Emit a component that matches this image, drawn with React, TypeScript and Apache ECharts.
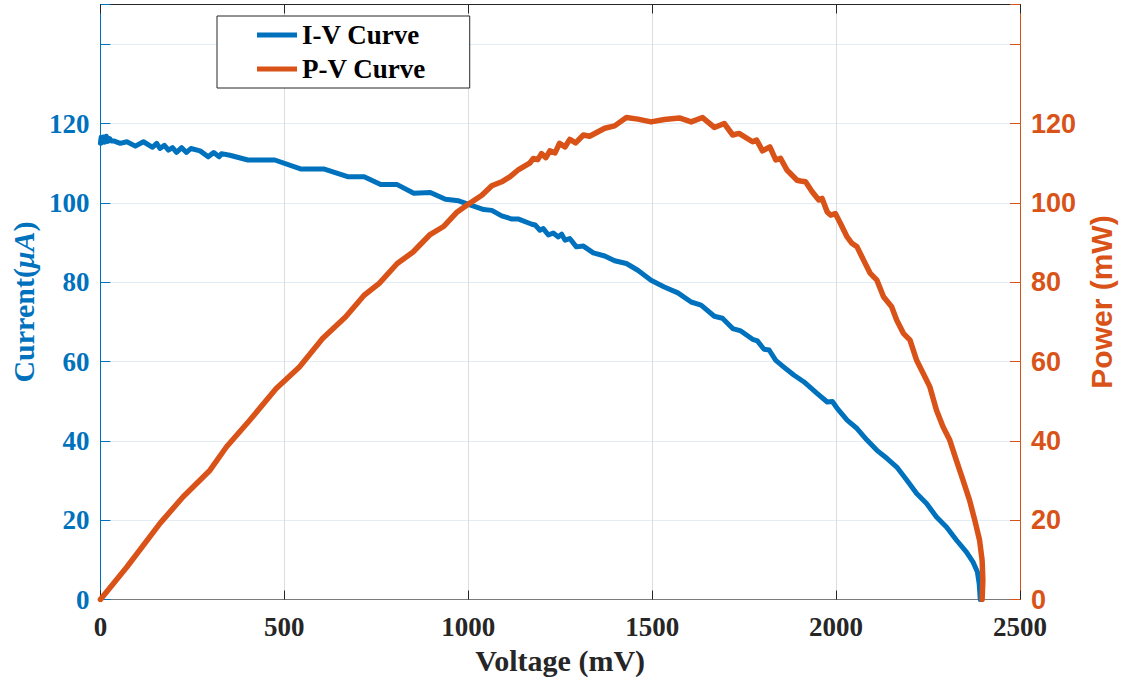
import React, { useEffect, useRef } from "react";
import * as echarts from "echarts";

// I-V curve: voltage (mV) and current (µA)
const ivVoltage = [
  0, 2, 5, 8, 12, 16, 20, 25, 30, 36, 54, 72, 95, 117, 142, 153, 162, 174, 185, 196, 207, 221, 234, 246,
  271, 293, 308, 323, 329, 352, 401, 474, 546, 609, 672, 717, 762, 807, 852, 897, 938, 974, 1001, 1042,
  1064, 1091, 1119, 1137, 1173, 1182, 1195, 1204, 1218, 1231, 1245, 1254, 1263, 1276, 1294, 1313, 1340,
  1371, 1398, 1430, 1461, 1497, 1533, 1570, 1606, 1633, 1669, 1691, 1719, 1741, 1773, 1786, 1804, 1818,
  1836, 1858, 1885, 1912, 1949, 1976, 1990, 2003, 2030, 2057, 2084, 2111, 2138, 2165, 2192, 2219, 2246,
  2273, 2300, 2327, 2354, 2372, 2384, 2389, 2392,
];
const ivCurrent = [
  115.0, 116.5, 115.2, 116.6, 115.3, 116.8, 115.5, 116.2, 115.6, 115.6, 115.0, 115.4, 114.3, 115.4, 114.0,
  115.0, 113.7, 114.5, 113.3, 113.9, 112.7, 113.9, 112.7, 113.7, 113.1, 111.6, 112.7, 111.6, 112.4, 112.0,
  110.8, 110.8, 108.5, 108.5, 106.6, 106.6, 104.6, 104.6, 102.4, 102.6, 100.9, 100.5, 99.6, 98.3, 98.1,
  96.7, 95.9, 95.9, 94.6, 94.4, 93.1, 93.5, 91.9, 92.4, 91.4, 92.1, 90.6, 91.0, 88.9, 89.1, 87.4, 86.6,
  85.4, 84.7, 83.0, 80.5, 78.8, 77.3, 75.0, 74.2, 71.4, 70.9, 68.3, 67.7, 65.6, 65.2, 63.1, 62.9, 60.3,
  58.6, 56.6, 54.9, 51.9, 49.8, 49.9, 48.2, 45.2, 43.1, 40.2, 37.6, 35.6, 33.4, 30.1, 26.7, 24.2, 20.8,
  18.3, 15.0, 12.0, 9.5, 7.0, 4.0, 0,
];

// P-V curve: voltage (mV) and power (mW)
const pvVoltage = [
  0, 72, 162, 225, 298, 343, 406, 478, 541, 604, 667, 717, 758, 807, 850, 895, 934, 970, 1001, 1037, 1064,
  1091, 1114, 1137, 1168, 1177, 1189, 1199, 1211, 1222, 1236, 1248, 1263, 1276, 1292, 1313, 1330, 1371,
  1398, 1430, 1461, 1497, 1533, 1574, 1606, 1637, 1669, 1696, 1719, 1736, 1773, 1784, 1800, 1820, 1836,
  1849, 1867, 1894, 1903, 1917, 1935, 1953, 1962, 1976, 1985, 1998, 2012, 2030, 2043, 2057, 2075, 2093,
  2111, 2129, 2151, 2165, 2183, 2201, 2219, 2237, 2255, 2273, 2291, 2309, 2327, 2345, 2363, 2377, 2390,
  2397, 2399, 2397,
];
const pvPower = [
  0, 8.2, 19.2, 25.9, 32.6, 38.5, 45.2, 53.2, 58.6, 65.8, 71.3, 76.7, 79.7, 84.7, 87.6, 91.9, 94.1, 97.7,
  99.7, 101.9, 104.3, 105.3, 106.6, 108.4, 110.1, 111.2, 110.9, 112.4, 111.4, 113.1, 112.6, 115.0, 114.1,
  116.0, 115.1, 117.1, 116.8, 118.8, 119.4, 121.5, 121.1, 120.4, 121.0, 121.4, 120.4, 121.5, 119.0, 120.0,
  117.1, 117.5, 115.4, 115.8, 113.1, 114.1, 110.8, 111.2, 108.2, 105.7, 105.5, 105.3, 102.8, 100.7, 101.1,
  97.7, 96.9, 97.3, 94.8, 91.4, 89.8, 88.9, 85.5, 82.2, 80.5, 76.3, 73.8, 70.4, 67.1, 65.4, 60.3, 57.0,
  53.6, 47.7, 43.5, 40.2, 35.1, 30.1, 25.0, 20.0, 15.0, 9.9, 4.9, 0,
];

const xTicks = { min: 0, max: 2500, interval: 500 };
const yTicks = { min: 0, max: 150, interval: 20, lastLabel: 120 };

const BLUE = "#0072BD";
const ORANGE = "#D95319";
const DARK = "#262626";
const SERIF = "'Liberation Serif', 'Times New Roman', serif";
const SANS = "'Liberation Sans', Arial, sans-serif";

export default function App() {
  const ref = useRef<HTMLDivElement>(null);

  useEffect(() => {
    if (!ref.current) return;
    const chart = echarts.init(ref.current, null, { renderer: "svg" });

    const ivData = ivVoltage.map((v, i) => [v, ivCurrent[i]]);
    const pvData = pvVoltage.map((v, i) => [v, pvPower[i]]);
    const hideTop = (v: number) => (v > yTicks.lastLabel ? "" : String(v));

    chart.setOption({
      animation: false,
      backgroundColor: "#ffffff",
      grid: { left: 97, right: 106, top: 4.5, bottom: 82.5, containLabel: false },
      legend: {
        left: 217,
        top: 16,
        orient: "vertical",
        padding: [4, 44, 4, 40],
        itemGap: 4,
        itemWidth: 40,
        itemHeight: 5,
        icon: "rect",
        backgroundColor: "#ffffff",
        borderColor: DARK,
        borderWidth: 1,
        borderRadius: 0,
        textStyle: {
          fontFamily: SERIF,
          fontWeight: "bold",
          fontSize: 27,
          color: "#000000",
          lineHeight: 30,
        },
        data: ["I-V Curve", "P-V Curve"],
      },
      xAxis: [
        {
          type: "value",
          position: "bottom",
          min: xTicks.min,
          max: xTicks.max,
          interval: xTicks.interval,
          name: "Voltage (mV)",
          nameLocation: "middle",
          nameGap: 46,
          nameTextStyle: { fontFamily: SERIF, fontWeight: "bold", fontSize: 30, color: DARK },
          axisLine: { show: true, onZero: false, lineStyle: { color: "#7a7a7a", width: 1 } },
          axisTick: { show: true, inside: true, length: 9, lineStyle: { color: DARK } },
          axisLabel: {
            fontFamily: SERIF,
            fontWeight: "bold",
            fontSize: 27,
            color: DARK,
            margin: 14,
            formatter: (v: number) => String(v),
          },
          splitLine: { show: true, lineStyle: { color: "#dcdde0", width: 1 } },
        },
        {
          type: "value",
          position: "top",
          min: xTicks.min,
          max: xTicks.max,
          interval: xTicks.interval,
          axisLine: { show: true, onZero: false, lineStyle: { color: DARK, width: 1 } },
          axisTick: { show: true, inside: true, length: 9, lineStyle: { color: DARK } },
          axisLabel: { show: false },
          splitLine: { show: false },
        },
      ],
      yAxis: [
        {
          type: "value",
          position: "left",
          min: yTicks.min,
          max: yTicks.max,
          interval: yTicks.interval,
          name: "Current({mu|μA})",
          nameLocation: "middle",
          nameRotate: 90,
          nameGap: 58,
          nameTextStyle: {
            fontFamily: SERIF,
            fontWeight: "bold",
            fontSize: 30,
            color: BLUE,
            rich: {
              mu: { fontFamily: SERIF, fontWeight: "bold", fontStyle: "italic", fontSize: 30, color: BLUE },
            },
          },
          axisLine: { show: true, onZero: false, lineStyle: { color: BLUE, width: 1 } },
          axisTick: { show: true, inside: true, length: 10, lineStyle: { color: BLUE } },
          axisLabel: {
            fontFamily: SERIF,
            fontWeight: "bold",
            fontSize: 27,
            color: BLUE,
            margin: 11,
            formatter: hideTop,
          },
          splitLine: { show: true, lineStyle: { color: "#e2ecf5", width: 1 } },
        },
        {
          type: "value",
          position: "right",
          min: yTicks.min,
          max: yTicks.max,
          interval: yTicks.interval,
          name: "Power (mW)",
          nameLocation: "middle",
          nameRotate: 90,
          nameGap: 64,
          nameTextStyle: { fontFamily: SANS, fontWeight: "bold", fontSize: 30, color: ORANGE },
          axisLine: { show: true, onZero: false, lineStyle: { color: ORANGE, width: 1 } },
          axisTick: { show: true, inside: true, length: 10, lineStyle: { color: ORANGE } },
          axisLabel: {
            fontFamily: SANS,
            fontWeight: "bold",
            fontSize: 27,
            color: ORANGE,
            margin: 11,
            formatter: hideTop,
          },
          splitLine: { show: false },
        },
      ],
      series: [
        {
          name: "I-V Curve",
          type: "line",
          xAxisIndex: 0,
          yAxisIndex: 0,
          data: ivData,
          showSymbol: false,
          symbol: "none",
          color: BLUE,
          lineStyle: { color: BLUE, width: 5, join: "round", cap: "round" },
          z: 3,
        },
        {
          name: "P-V Curve",
          type: "line",
          xAxisIndex: 0,
          yAxisIndex: 1,
          data: pvData,
          showSymbol: false,
          symbol: "none",
          color: ORANGE,
          lineStyle: { color: ORANGE, width: 5.5, join: "round", cap: "round" },
          z: 4,
        },
      ],
    });

    return () => chart.dispose();
  }, []);

  return (
    <div
      ref={ref}
      style={{ position: "absolute", left: 0, top: 0, width: 1126, height: 682, background: "#fff" }}
    />
  );
}
